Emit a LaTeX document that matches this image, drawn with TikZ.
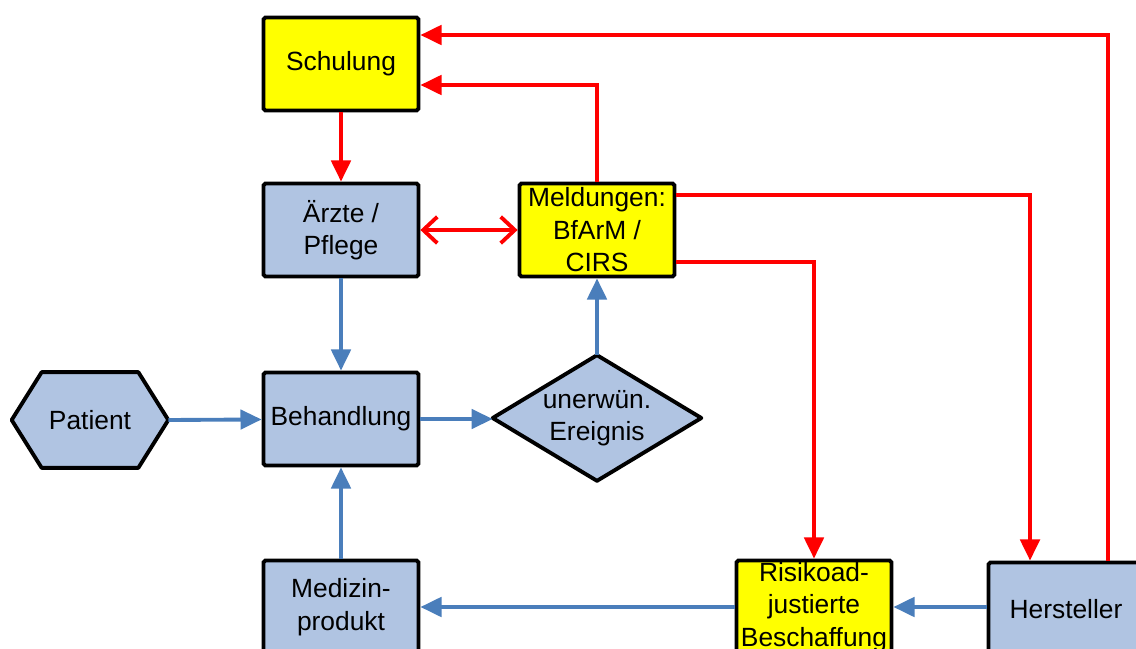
\documentclass[tikz,border=0pt]{standalone}
\usepackage{fontspec}
\setmainfont{Liberation Sans}
\usepackage{xcolor}
\usetikzlibrary{arrows.meta,backgrounds}
\definecolor{boxblue}{RGB}{176, 196, 226}
\definecolor{lineblue}{RGB}{74, 126, 187}
\definecolor{boxyellow}{RGB}{255, 255, 0}
\definecolor{linered}{RGB}{255, 0, 0}

\tikzset{
  box/.style={draw=black, line width=2.2pt, rounded corners=1pt, align=center,
    minimum width=3.1cm, minimum height=1.86cm, inner sep=0pt,
    font=\fontsize{15}{18.5}\selectfont},
  bluebox/.style={box, fill=boxblue},
  yellowbox/.style={box, fill=boxyellow},
  bluearrow/.style={draw=lineblue, line width=2.2pt, -{Triangle[length=12pt,width=11pt]}},
  redarrow/.style={draw=linered, line width=2.2pt, -{Triangle[length=12pt,width=11pt]}}
}

\begin{document}
\begin{tikzpicture}[x=0.02cm, y=-0.02cm]
    \useasboundingbox (0,0) rectangle (1136,649);

    % Boxes
    \node[yellowbox] (schul) at (341,64) {Schulung};
    \node[bluebox] (aerzte) at (341,230) {Ärzte /\\Pflege};
    \node[yellowbox] (meld) at (597,230) {Meldungen:\\BfArM /\\CIRS};
    \node[bluebox] (behand) at (341,419) {Behandlung};
    \node[bluebox] (mp) at (341,607) {Medizin-\\produkt};
    \node[yellowbox] (risiko) at (814,607) {Risikoad-\\justierte\\Beschaffung};
    \node[bluebox] (herst) at (1066,609) {Hersteller};

    % Patient hexagon
    \node[minimum width=3.12cm, minimum height=1.9cm, inner sep=0pt,
      font=\fontsize{15}{18.5}\selectfont] (pat) at (90,420) {Patient};
    % Event diamond
    \node[minimum width=4.16cm, minimum height=2.5cm, inner sep=0pt, align=center,
      font=\fontsize{15}{18.5}\selectfont] (ereig) at (597,418) {unerwün.\\Ereignis};
    \begin{pgfonlayer}{background}
      \draw[line width=2.2pt, fill=boxblue, line join=round]
        (pat.west) -- ([xshift=0.6cm]pat.north west) -- ([xshift=-0.6cm]pat.north east)
        -- (pat.east) -- ([xshift=-0.6cm]pat.south east) -- ([xshift=0.6cm]pat.south west) -- cycle;
      \draw[line width=2.2pt, fill=boxblue, line join=round]
        (ereig.west) -- (ereig.north) -- (ereig.east) -- (ereig.south) -- cycle;
    \end{pgfonlayer}

    % Blue connectors
    \draw[bluearrow] (aerzte) -- (behand);
    \draw[bluearrow] (pat.east) -- (behand);
    \draw[bluearrow] (behand) -- (behand -| ereig.west);
    \draw[bluearrow] (ereig.north) -- (meld);
    \draw[bluearrow] (mp) -- (behand);
    \draw[bluearrow] (risiko) -- (mp);
    \draw[bluearrow] (herst.west |- risiko) -- (risiko);

    % Red connectors
    \draw[redarrow] (schul) -- (aerzte);
    \draw[draw=linered, line width=2.2pt,
      {Straight Barb[length=8pt,width=15pt]}-{Straight Barb[length=8pt,width=15pt]}] (aerzte) -- (meld);
    \draw[redarrow] (meld.north) |- ([yshift=-0.42cm]schul.east);
    \draw[redarrow] ([xshift=0.84cm]herst.north) |- ([yshift=0.58cm]schul.east);
    \draw[redarrow] ([yshift=0.7cm]meld.east) -| ([xshift=-0.72cm]herst.north);
    \draw[redarrow] ([yshift=-0.64cm]meld.east) -| (risiko.north);
  \end{tikzpicture}
\end{document}
